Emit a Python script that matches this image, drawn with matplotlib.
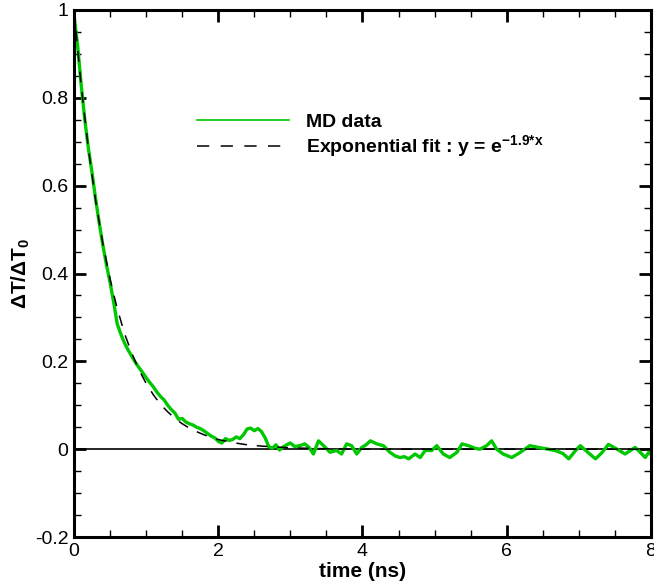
import matplotlib
matplotlib.use("Agg")
import matplotlib.pyplot as plt
from matplotlib.ticker import MultipleLocator

plt.rcParams['font.family'] = ['Liberation Sans', 'DejaVu Sans']
plt.rcParams['mathtext.fontset'] = 'custom'
plt.rcParams['mathtext.rm'] = 'Liberation Sans'
plt.rcParams['mathtext.bf'] = 'Liberation Sans:bold'
plt.rcParams['mathtext.it'] = 'Liberation Sans:italic'

# MD data (time in ns, dT/dT0)
md_time = [0.00, 0.05, 0.10, 0.15, 0.20, 0.25, 0.30, 0.35, 0.40, 0.45,
           0.50, 0.55, 0.60, 0.65, 0.70, 0.75, 0.80, 0.85, 0.90, 0.95,
           1.00, 1.05, 1.10, 1.15, 1.20, 1.25, 1.30, 1.35, 1.40, 1.45,
           1.50, 1.55, 1.60, 1.65, 1.70, 1.75, 1.80, 1.85, 1.90, 1.95,
           2.00, 2.05, 2.10, 2.15, 2.20, 2.25, 2.30, 2.35, 2.40, 2.45,
           2.50, 2.55, 2.60, 2.65, 2.70, 2.75, 2.80, 2.85, 2.90, 2.95,
           3.00, 3.06, 3.13, 3.20, 3.26, 3.32, 3.39, 3.46, 3.55, 3.64,
           3.71, 3.78, 3.85, 3.92, 3.99, 4.05, 4.11, 4.20, 4.29, 4.38,
           4.45, 4.52, 4.58, 4.64, 4.73, 4.80, 4.87, 4.96, 5.03, 5.12,
           5.21, 5.31, 5.38, 5.47, 5.56, 5.63, 5.72, 5.79, 5.86, 5.95,
           6.07, 6.19, 6.32, 6.44, 6.58, 6.69, 6.78, 6.86, 6.95, 7.02,
           7.13, 7.23, 7.32, 7.41, 7.53, 7.64, 7.78, 7.85, 7.92, 7.97, 8.00]
md_value = [0.99, 0.92, 0.83, 0.75, 0.685, 0.63, 0.57, 0.515, 0.465, 0.42,
            0.38, 0.335, 0.285, 0.262, 0.242, 0.226, 0.212, 0.198, 0.186, 0.175,
            0.163, 0.152, 0.142, 0.130, 0.120, 0.112, 0.100, 0.090, 0.082, 0.068,
            0.070, 0.062, 0.058, 0.055, 0.050, 0.047, 0.042, 0.036, 0.030, 0.026,
            0.018, 0.014, 0.024, 0.020, 0.022, 0.028, 0.024, 0.033, 0.046, 0.048,
            0.042, 0.047, 0.040, 0.026, 0.006, 0.002, 0.010, -0.002, 0.005, 0.010,
            0.014, 0.006, 0.008, 0.012, 0.004, -0.011, 0.019, 0.008, -0.007, -0.003,
            -0.011, 0.012, 0.008, -0.011, 0.004, 0.010, 0.019, 0.012, 0.008, -0.007,
            -0.015, -0.019, -0.017, -0.022, -0.011, -0.019, -0.003, -0.003, 0.008, -0.011,
            -0.019, -0.007, 0.012, 0.008, 0.002, 0.000, 0.008, 0.019, 0.000, -0.011,
            -0.019, -0.007, 0.008, 0.004, 0.000, -0.004, -0.010, -0.022, -0.004, 0.008,
            -0.008, -0.022, -0.008, 0.011, 0.000, -0.011, 0.004, -0.007, -0.019, -0.007, -0.012]

# exponential fit
fit_time = [0.0, 0.1, 0.2, 0.3, 0.4, 0.5, 0.6, 0.7, 0.8, 0.9,
            1.0, 1.1, 1.2, 1.3, 1.4, 1.5, 1.6, 1.7, 1.8, 1.9,
            2.0, 2.2, 2.4, 2.6, 2.8, 3.0, 3.5, 4.0, 8.0]
fit_value = [1.000, 0.827, 0.684, 0.566, 0.468, 0.387, 0.320, 0.264, 0.219, 0.181,
             0.150, 0.124, 0.102, 0.085, 0.070, 0.058, 0.048, 0.040, 0.033, 0.027,
             0.022, 0.015, 0.010, 0.007, 0.005, 0.003, 0.001, 0.0, 0.0]

fig = plt.figure(figsize=(6.54, 5.88), dpi=100)
ax = fig.add_axes([0.1131, 0.0867, 0.8823, 0.8963])

ax.axhline(0, color='black', lw=1.2, zorder=1)
ax.plot(md_time, md_value, color='#00c800', lw=2.4, label='MD data', zorder=2)
ax.plot(fit_time, fit_value, color='black', lw=1.1, dashes=(7, 6.5),
        label='Exponential fit : y = e$^{\\mathbf{-1.9{*}x}}$', zorder=3)

ax.set_xlim(0, 8)
ax.set_ylim(-0.2, 1.0)
ax.xaxis.set_major_locator(MultipleLocator(2))
ax.xaxis.set_minor_locator(MultipleLocator(0.5))
ax.yaxis.set_major_locator(MultipleLocator(0.2))
ax.yaxis.set_minor_locator(MultipleLocator(0.05))
ax.set_xticks([0, 2, 4, 6, 8])
ax.set_xticklabels(['0', '2', '4', '6', '8'])
ax.set_yticks([-0.2, 0, 0.2, 0.4, 0.6, 0.8, 1.0])
ax.set_yticklabels(['-0.2', '0', '0.2', '0.4', '0.6', '0.8', '1'])

ax.tick_params(which='both', direction='in', top=True, right=True, labelsize=14)
ax.tick_params(which='major', length=8.5, width=2.0, pad=4)
ax.tick_params(which='minor', length=5, width=1.0)
for s in ax.spines.values():
    s.set_linewidth(2.2)

ax.set_xlabel('time (ns)', fontsize=15, fontweight='bold', labelpad=2)
ax.set_ylabel('ΔT/ΔT$_{\\mathbf{0}}$', fontsize=15, fontweight='bold', labelpad=2)

leg = ax.legend(loc='upper left', bbox_to_anchor=(0.2132, 0.8046), frameon=False,
                prop={'weight': 'bold', 'size': 14}, handlelength=4.75,
                handletextpad=0.87, labelspacing=0.15, borderpad=0, borderaxespad=0)
# legend sample of the green line is thin in the original
leg.get_lines()[0].set_linewidth(1.2)
leg.get_lines()[1].set_dashes((8, 7.5))

fig.savefig('out.png', dpi=100)
